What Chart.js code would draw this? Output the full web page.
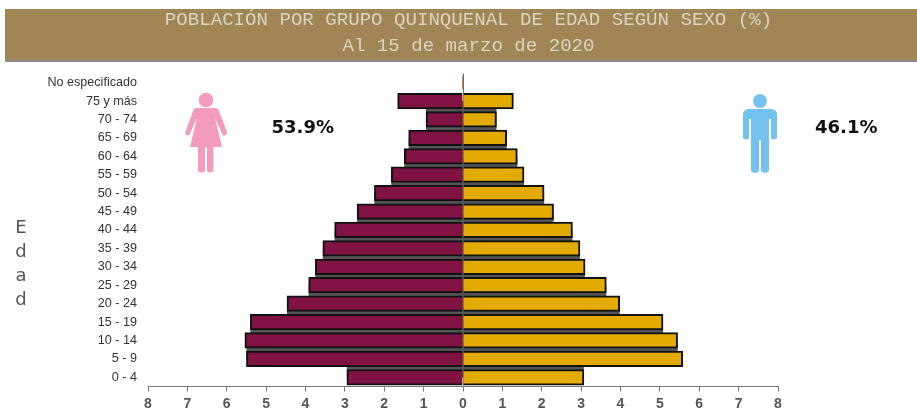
<!DOCTYPE html>
<html lang="es">
<head>
<meta charset="utf-8">
<title>Población por grupo quinquenal</title>
<script src="https://cdn.jsdelivr.net/npm/chart.js@4"></script>
<style>
html,body{margin:0;padding:0;background:#fff}
#wrap{width:917px;height:413px;position:relative;overflow:hidden}
canvas{filter:blur(0.55px)}
</style>
</head>
<body>
<div id="wrap"><canvas id="c" width="917" height="413"></canvas></div>
<script>
const categories = ["No especificado","75 y más","70 - 74","65 - 69","60 - 64","55 - 59","50 - 54","45 - 49","40 - 44","35 - 39","30 - 34","25 - 29","20 - 24","15 - 19","10 - 14","5 - 9","0 - 4"];
const mujeres = [0.01,1.66,0.94,1.38,1.49,1.82,2.25,2.69,3.26,3.56,3.75,3.92,4.47,5.40,5.54,5.50,2.95];
const hombres = [0.01,1.28,0.85,1.11,1.38,1.55,2.06,2.30,2.78,2.97,3.10,3.64,3.98,5.08,5.45,5.58,3.07];
const titleLines = ["POBLACIÓN POR GRUPO QUINQUENAL DE EDAD SEGÚN SEXO (%)","Al 15 de marzo de 2020"];
const pctMujeres = "53.9%";
const pctHombres = "46.1%";
const axisLetters = ["E","d","a","d"];
const xTicks = [8,7,6,5,4,3,2,1,0,1,2,3,4,5,6,7,8];

const decor = {
  id:'decor',
  afterLayout(chart){
    const t = chart.titleBlock;
    if(t){ t.left = 20; t.right = 917; }
  },
  beforeDraw(chart){
    const c = chart.ctx;
    c.save();
    c.fillStyle = '#9f8654';
    c.fillRect(5,9,912,51);
    c.fillStyle = '#8b8b8f';
    c.fillRect(5,60,912,2);
    c.restore();
  },
  beforeDatasetsDraw(chart){
    const c = chart.ctx;
    c.save();
    c.fillStyle = '#565656';
    chart.data.datasets.forEach((d,di)=>{
      const els = chart.getDatasetMeta(di).data;
      const zero = chart.scales.x.getPixelForValue(0);
      for(let i=2;i<els.length;i++){
        const a = els[i-1], b = els[i];
        const reach = Math.min(Math.abs(a.x-zero),Math.abs(b.x-zero));
        const x = di===0 ? zero-reach : zero;
        c.fillRect(x,a.y,reach,b.y-a.y);
      }
    });
    c.restore();
  },
  afterDraw(chart){
    const c = chart.ctx;
    c.save();
    c.textAlign='left'; c.textBaseline='middle';
    c.fillStyle='#111';
    c.font='bold 18px "DejaVu Sans"';
    c.fillText(pctMujeres,271.5,128);
    c.fillText(pctHombres,815,128);
    c.fillStyle='#555';
    c.font='18px "DejaVu Sans"';
    c.textAlign='center';
    axisLetters.forEach((l,i)=>c.fillText(l,21,228+i*24));
    // woman
    c.fillStyle='#f29bbd';
    c.beginPath(); c.arc(206,100,7.3,0,Math.PI*2); c.fill();
    c.beginPath();
    c.moveTo(197,108); c.lineTo(215,108); c.quadraticCurveTo(218,108,219,111);
    c.lineTo(227,132); c.quadraticCurveTo(227,136,223,135.5);
    c.lineTo(215,118); c.lineTo(222,147); c.lineTo(213.5,147); c.lineTo(213.5,171);
    c.quadraticCurveTo(210,174,207,171); c.lineTo(207,147); c.lineTo(205,147); c.lineTo(205,171);
    c.quadraticCurveTo(201,174,198,171); c.lineTo(198,147); c.lineTo(190,147); c.lineTo(197,118);
    c.lineTo(189,135.5); c.quadraticCurveTo(185,136,185.5,132); c.lineTo(193,111); c.quadraticCurveTo(194,108,197,108);
    c.fill();
    // man
    c.fillStyle='#73c2f0';
    c.beginPath(); c.arc(760,101,7,0,Math.PI*2); c.fill();
    c.beginPath();
    c.moveTo(749,109); c.lineTo(771,109); c.quadraticCurveTo(777,109,777,115);
    c.lineTo(777,138); c.quadraticCurveTo(774,141,771,138); c.lineTo(771,119); c.lineTo(769,119);
    c.lineTo(769,171); c.quadraticCurveTo(765,175,761,171); c.lineTo(761,140); c.lineTo(759,140);
    c.lineTo(759,171); c.quadraticCurveTo(755,175,751,171); c.lineTo(751,119); c.lineTo(749,119);
    c.lineTo(749,138); c.quadraticCurveTo(746,141,743,138); c.lineTo(743,115); c.quadraticCurveTo(743,109,749,109);
    c.fill();
    c.restore();
  }
};

new Chart(document.getElementById('c'),{
  type:'bar',
  plugins:[decor],
  data:{
    labels:categories,
    datasets:[
      {label:'Mujeres',data:mujeres.map(v=>-v),backgroundColor:'#801244',borderColor:'#111',borderWidth:2,barThickness:15.6},
      {label:'Hombres',data:hombres,backgroundColor:'#e3ab00',borderColor:'#111',borderWidth:2,barThickness:15.6}
    ]
  },
  options:{
    indexAxis:'y',
    responsive:false,
    animation:false,
    layout:{padding:{left:0,right:139,top:0,bottom:0}},
    plugins:{
      legend:{display:false},
      tooltip:{enabled:false},
      title:{display:true,text:titleLines,color:'#dcd4c0',
        font:{family:'"Liberation Mono"',size:19.1,lineHeight:1.36,weight:'normal'},
        padding:{top:7,bottom:14.5}}
    },
    scales:{
      x:{
        type:'linear',stacked:true,min:-8,max:8,
        afterBuildTicks(s){ s.ticks = xTicks.map((v,i)=>({value:i-8})); },
        grid:{display:true,drawOnChartArea:true,drawTicks:true,tickLength:5,lineWidth:1,
          color:ctx=>ctx.tick&&ctx.tick.value===0?'#777':'rgba(0,0,0,0)',tickColor:'#777'},
        border:{display:true,color:'#777',width:1},
        ticks:{color:'#555',padding:4,maxRotation:0,autoSkip:false,
          font:{family:'"Liberation Sans"',size:14,weight:'bold'},
          callback:(v,i)=>String(xTicks[i])},
        afterFit(s){ s.height = 26.5; }
      },
      y:{
        stacked:true,
        grid:{display:false},
        border:{display:false},
        ticks:{color:'#333',padding:3,autoSkip:false,font:{family:'"Liberation Sans"',size:12.6}},
        afterFit(s){ s.width = 148; }
      }
    }
  }
});
</script>
</body>
</html>
